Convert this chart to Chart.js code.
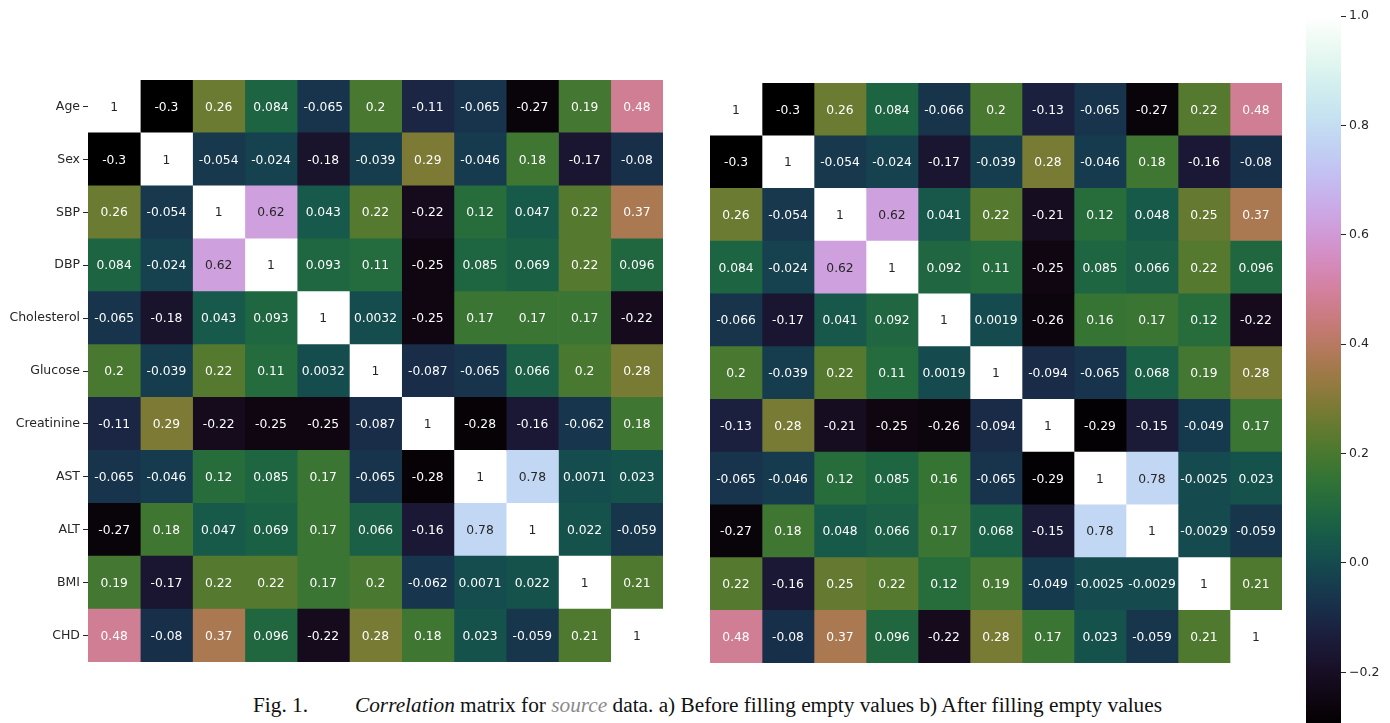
<!DOCTYPE html>
<html lang="en">
<head>
    <meta charset="UTF-8">
    <title>Correlation matrix</title>
    <script src="https://cdn.jsdelivr.net/npm/chart.js"></script>
    <style>
        html, body { margin: 0; padding: 0; background: #fff; overflow: hidden; }
        body { width: 1390px; height: 723px; position: relative; }
        canvas { position: absolute; }
        #before { left: 0; top: 0; }
        #after { left: 700px; top: 0; }
        #cbar { left: 1290px; top: 0; }
        .caption { position: absolute; top: 693px; font-family: "Liberation Serif", "Times New Roman", serif; font-size: 21.3px; color: #111; white-space: nowrap; }
        .caption i.src { color: #8a8a8a; }
    </style>
</head>
<body>
    <canvas id="before" width="700" height="680"></canvas>
    <canvas id="after" width="600" height="680"></canvas>
    <canvas id="cbar" width="100" height="740"></canvas>
    <div class="caption" style="left:253px">Fig. 1.</div>
    <div class="caption" style="left:355px"><i>Correlation</i> matrix for <i class="src">source</i> data. a) Before filling empty values b) After filling empty values</div>

    <script>
        const features = ['Age', 'Sex', 'SBP', 'DBP', 'Cholesterol', 'Glucose', 'Creatinine', 'AST', 'ALT', 'BMI', 'CHD'];

        // a) before filling empty values
        const beforeFill = [
            [1, -0.3, 0.26, 0.084, -0.065, 0.2, -0.11, -0.065, -0.27, 0.19, 0.48],
            [-0.3, 1, -0.054, -0.024, -0.18, -0.039, 0.29, -0.046, 0.18, -0.17, -0.08],
            [0.26, -0.054, 1, 0.62, 0.043, 0.22, -0.22, 0.12, 0.047, 0.22, 0.37],
            [0.084, -0.024, 0.62, 1, 0.093, 0.11, -0.25, 0.085, 0.069, 0.22, 0.096],
            [-0.065, -0.18, 0.043, 0.093, 1, 0.0032, -0.25, 0.17, 0.17, 0.17, -0.22],
            [0.2, -0.039, 0.22, 0.11, 0.0032, 1, -0.087, -0.065, 0.066, 0.2, 0.28],
            [-0.11, 0.29, -0.22, -0.25, -0.25, -0.087, 1, -0.28, -0.16, -0.062, 0.18],
            [-0.065, -0.046, 0.12, 0.085, 0.17, -0.065, -0.28, 1, 0.78, 0.0071, 0.023],
            [-0.27, 0.18, 0.047, 0.069, 0.17, 0.066, -0.16, 0.78, 1, 0.022, -0.059],
            [0.19, -0.17, 0.22, 0.22, 0.17, 0.2, -0.062, 0.0071, 0.022, 1, 0.21],
            [0.48, -0.08, 0.37, 0.096, -0.22, 0.28, 0.18, 0.023, -0.059, 0.21, 1]
        ];

        // b) after filling empty values
        const afterFill = [
            [1, -0.3, 0.26, 0.084, -0.066, 0.2, -0.13, -0.065, -0.27, 0.22, 0.48],
            [-0.3, 1, -0.054, -0.024, -0.17, -0.039, 0.28, -0.046, 0.18, -0.16, -0.08],
            [0.26, -0.054, 1, 0.62, 0.041, 0.22, -0.21, 0.12, 0.048, 0.25, 0.37],
            [0.084, -0.024, 0.62, 1, 0.092, 0.11, -0.25, 0.085, 0.066, 0.22, 0.096],
            [-0.066, -0.17, 0.041, 0.092, 1, 0.0019, -0.26, 0.16, 0.17, 0.12, -0.22],
            [0.2, -0.039, 0.22, 0.11, 0.0019, 1, -0.094, -0.065, 0.068, 0.19, 0.28],
            [-0.13, 0.28, -0.21, -0.25, -0.26, -0.094, 1, -0.29, -0.15, -0.049, 0.17],
            [-0.065, -0.046, 0.12, 0.085, 0.16, -0.065, -0.29, 1, 0.78, -0.0025, 0.023],
            [-0.27, 0.18, 0.048, 0.066, 0.17, 0.068, -0.15, 0.78, 1, -0.0029, -0.059],
            [0.22, -0.16, 0.25, 0.22, 0.12, 0.19, -0.049, -0.0025, -0.0029, 1, 0.21],
            [0.48, -0.08, 0.37, 0.096, -0.22, 0.28, 0.17, 0.023, -0.059, 0.21, 1]
        ];

        const colorbarTicks = [-0.2, 0.0, 0.2, 0.4, 0.6, 0.8, 1.0];
        const vmin = -0.3;
        const vmax = 1.0;

        const FONT = 'DejaVu Sans';
        const DARK = '#262626';

        // matplotlib "cubehelix" colormap (gamma 1, s 0.5, r -1.5, h 1)
        function cubehelix(t) {
            const a = t * (1 - t) / 2;
            const phi = 2 * Math.PI * (0.5 / 3 - 1.5 * t);
            const c = Math.cos(phi), s = Math.sin(phi);
            const ch = [
                t + a * (-0.14861 * c + 1.78277 * s),
                t + a * (-0.29227 * c - 0.90649 * s),
                t + a * (1.97294 * c)
            ];
            return ch.map(x => Math.min(1, Math.max(0, x)));
        }

        function rgbFor(v) {
            const t = Math.min(1, Math.max(0, (v - vmin) / (vmax - vmin)));
            return cubehelix(t);
        }

        function cssFor(v) {
            const [r, g, b] = rgbFor(v).map(x => Math.round(x * 255));
            return `rgb(${r},${g},${b})`;
        }

        // same rule seaborn uses to pick annotation colour
        function textColorFor(v) {
            const lin = rgbFor(v).map(x => x <= 0.03928 ? x / 12.92 : Math.pow((x + 0.055) / 1.055, 2.4));
            const lum = 0.2126 * lin[0] + 0.7152 * lin[1] + 0.0722 * lin[2];
            return lum > 0.408 ? DARK : '#ffffff';
        }

        const cellText = {
            id: 'cellText',
            afterDatasetsDraw(chart) {
                const ctx = chart.ctx;
                ctx.save();
                ctx.font = `12.3px "${FONT}"`;
                ctx.textAlign = 'center';
                ctx.textBaseline = 'middle';
                chart.data.datasets.forEach((ds, i) => {
                    chart.getDatasetMeta(i).data.forEach((bar, j) => {
                        const v = ds.values[j];
                        ctx.fillStyle = textColorFor(v);
                        ctx.fillText(String(v), (bar.x + bar.base) / 2, bar.y + 1);
                    });
                });
                ctx.restore();
            }
        };

        function heatmap(id, matrix, padding, showLabels) {
            // one stacked dataset per column, one unit-wide segment per row
            const datasets = features.map((name, c) => ({
                label: name,
                data: matrix.map(() => 1),
                values: matrix.map(row => row[c]),
                backgroundColor: matrix.map(row => cssFor(row[c])),
                borderWidth: 0,
                barPercentage: 1,
                categoryPercentage: 1
            }));

            new Chart(document.getElementById(id), {
                type: 'bar',
                data: { labels: features, datasets: datasets },
                options: {
                    indexAxis: 'y',
                    responsive: false,
                    animation: false,
                    layout: { padding: padding },
                    plugins: { legend: { display: false }, tooltip: { enabled: false } },
                    scales: {
                        x: { stacked: true, min: 0, max: features.length, display: false },
                        y: {
                            stacked: true,
                            display: showLabels,
                            afterFit: s => { s.width = showLabels ? 88 : 0; },
                            grid: { drawOnChartArea: false, offset: false, tickLength: 5, color: DARK, tickWidth: 1 },
                            border: { display: false },
                            ticks: { color: DARK, padding: 3, font: { family: FONT, size: 12.5 } }
                        }
                    }
                },
                plugins: [cellText]
            });
        }

        heatmap('before', beforeFill, { left: 0, top: 80, right: 37, bottom: 18 }, true);
        heatmap('after', afterFill, { left: 10, top: 83, right: 18, bottom: 17 }, false);

        // colour bar
        new Chart(document.getElementById('cbar'), {
            type: 'bar',
            data: {
                labels: [''],
                datasets: [{
                    data: [[vmin, vmax]],
                    borderWidth: 0,
                    barPercentage: 1,
                    categoryPercentage: 1,
                    backgroundColor: ctx => {
                        const area = ctx.chart.chartArea;
                        if (!area) return null;
                        const g = ctx.chart.ctx.createLinearGradient(0, area.bottom, 0, area.top);
                        for (let k = 0; k <= 64; k++) {
                            const t = k / 64;
                            g.addColorStop(t, cssFor(vmin + t * (vmax - vmin)));
                        }
                        return g;
                    }
                }]
            },
            options: {
                responsive: false,
                animation: false,
                layout: { padding: { left: 16, top: 16, bottom: 13, right: 0 } },
                plugins: { legend: { display: false }, tooltip: { enabled: false } },
                scales: {
                    x: { display: false },
                    y: {
                        position: 'right',
                        min: vmin,
                        max: vmax,
                        afterBuildTicks: s => { s.ticks = colorbarTicks.map(v => ({ value: v })); },
                        afterFit: s => { s.width = 49; },
                        grid: { drawOnChartArea: false, tickLength: 5, color: DARK },
                        border: { display: false },
                        ticks: {
                            color: DARK,
                            padding: 3,
                            font: { family: FONT, size: 12.5 },
                            callback: v => (v < 0 ? '\u2212' : '') + Math.abs(v).toFixed(1)
                        }
                    }
                }
            }
        });
    </script>
</body>
</html>
